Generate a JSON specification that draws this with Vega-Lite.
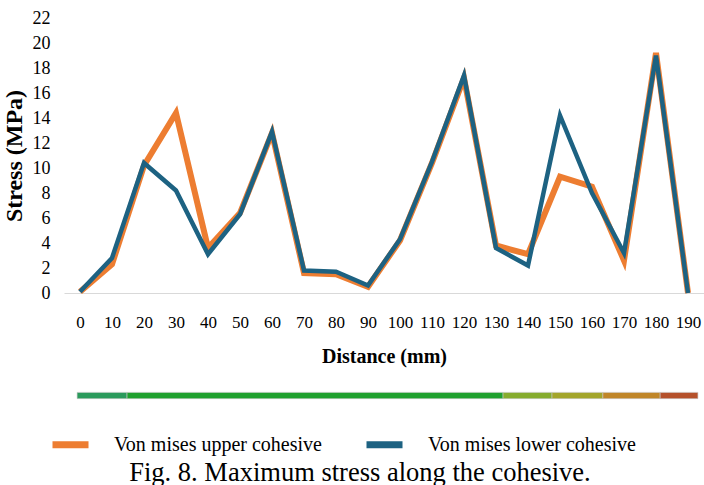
{
  "$schema": "https://vega.github.io/schema/vega-lite/v6.json",
  "width": 640,
  "height": 275,
  "autosize": "none",
  "padding": {"left": 64, "top": 18, "right": 0, "bottom": 192},
  "background": "white",
  "config": {
    "view": {"stroke": null},
    "font": "Liberation Serif",
    "axis": {
      "labelFont": "Liberation Serif",
      "labelColor": "#000000",
      "labelOverlap": false,
      "labelFlush": false,
      "titleFont": "Liberation Serif",
      "titleFontWeight": "bold",
      "titleColor": "#000000",
      "ticks": false,
      "grid": false
    },
    "axisX": {
      "labelFontSize": 17,
      "labelPadding": 21,
      "titleFontSize": 20,
      "titlePadding": 16,
      "domain": true,
      "domainColor": "#d9d9d9",
      "domainWidth": 1
    },
    "axisY": {
      "labelFontSize": 18,
      "labelPadding": 14,
      "titleFontSize": 24,
      "titlePadding": 6,
      "domain": false
    },
    "legend": {
      "labelFont": "Liberation Serif",
      "labelFontSize": 20,
      "labelColor": "#000000",
      "labelLimit": 400
    }
  },
  "title": {
    "text": "Fig. 8. Maximum stress along the cohesive.",
    "orient": "bottom",
    "anchor": "middle",
    "font": "Liberation Serif",
    "fontSize": 26.5,
    "fontWeight": "normal",
    "color": "#000000",
    "offset": 1,
    "dx": -24
  },
  "datasets": {
    "stress": [
      {"d": 0, "series": "Von mises upper cohesive", "stress": 0.1},
      {"d": 10, "series": "Von mises upper cohesive", "stress": 2.3},
      {"d": 20, "series": "Von mises upper cohesive", "stress": 10.2},
      {"d": 30, "series": "Von mises upper cohesive", "stress": 14.4},
      {"d": 40, "series": "Von mises upper cohesive", "stress": 3.6},
      {"d": 50, "series": "Von mises upper cohesive", "stress": 6.4},
      {"d": 60, "series": "Von mises upper cohesive", "stress": 12.8},
      {"d": 70, "series": "Von mises upper cohesive", "stress": 1.6},
      {"d": 80, "series": "Von mises upper cohesive", "stress": 1.5},
      {"d": 90, "series": "Von mises upper cohesive", "stress": 0.5},
      {"d": 100, "series": "Von mises upper cohesive", "stress": 4.2},
      {"d": 110, "series": "Von mises upper cohesive", "stress": 10.4},
      {"d": 120, "series": "Von mises upper cohesive", "stress": 17.2},
      {"d": 130, "series": "Von mises upper cohesive", "stress": 3.8},
      {"d": 140, "series": "Von mises upper cohesive", "stress": 3.1},
      {"d": 150, "series": "Von mises upper cohesive", "stress": 9.3},
      {"d": 160, "series": "Von mises upper cohesive", "stress": 8.5},
      {"d": 170, "series": "Von mises upper cohesive", "stress": 2.6},
      {"d": 180, "series": "Von mises upper cohesive", "stress": 19.2},
      {"d": 190, "series": "Von mises upper cohesive", "stress": 0},
      {"d": 0, "series": "Von mises lower cohesive", "stress": 0.1},
      {"d": 10, "series": "Von mises lower cohesive", "stress": 2.8},
      {"d": 20, "series": "Von mises lower cohesive", "stress": 10.4},
      {"d": 30, "series": "Von mises lower cohesive", "stress": 8.2},
      {"d": 40, "series": "Von mises lower cohesive", "stress": 3.1},
      {"d": 50, "series": "Von mises lower cohesive", "stress": 6.3},
      {"d": 60, "series": "Von mises lower cohesive", "stress": 12.9},
      {"d": 70, "series": "Von mises lower cohesive", "stress": 1.8},
      {"d": 80, "series": "Von mises lower cohesive", "stress": 1.7},
      {"d": 90, "series": "Von mises lower cohesive", "stress": 0.6},
      {"d": 100, "series": "Von mises lower cohesive", "stress": 4.3},
      {"d": 110, "series": "Von mises lower cohesive", "stress": 10.5},
      {"d": 120, "series": "Von mises lower cohesive", "stress": 17.4},
      {"d": 130, "series": "Von mises lower cohesive", "stress": 3.6},
      {"d": 140, "series": "Von mises lower cohesive", "stress": 2.2},
      {"d": 150, "series": "Von mises lower cohesive", "stress": 14.2},
      {"d": 160, "series": "Von mises lower cohesive", "stress": 8.0},
      {"d": 170, "series": "Von mises lower cohesive", "stress": 3.2},
      {"d": 180, "series": "Von mises lower cohesive", "stress": 19.0},
      {"d": 190, "series": "Von mises lower cohesive", "stress": 0}
    ],
    "strip": [
      {"a": -0.9, "b": 14.7, "band": "b1"},
      {"a": 14.7, "b": 132.2, "band": "b2"},
      {"a": 132.2, "b": 147.5, "band": "b3"},
      {"a": 147.5, "b": 163.4, "band": "b4"},
      {"a": 163.4, "b": 181.3, "band": "b5"},
      {"a": 181.3, "b": 193.1, "band": "b6"}
    ]
  },
  "layer": [
    {
      "data": {"name": "stress"},
      "layer": [
        {
          "transform": [{"filter": "datum.series === 'Von mises upper cohesive'"}],
          "mark": {"type": "line", "strokeWidth": 6, "strokeJoin": "miter"},
          "encoding": {
            "x": {
              "field": "d",
              "type": "quantitative",
              "scale": {"domain": [-5, 195], "nice": false, "zero": false},
              "axis": {
                "values": [0, 10, 20, 30, 40, 50, 60, 70, 80, 90, 100, 110, 120, 130, 140, 150, 160, 170, 180, 190],
                "title": "Distance (mm)",
                "labelOverlap": false,
                "labelFontSize": 17
              }
            },
            "y": {
              "field": "stress",
              "type": "quantitative",
              "scale": {"domain": [0, 22], "nice": false},
              "axis": {
                "values": [0, 2, 4, 6, 8, 10, 12, 14, 16, 18, 20, 22],
                "title": "Stress (MPa)",
                "labelOverlap": false,
                "labelFontSize": 18
              }
            },
            "color": {
              "field": "series",
              "type": "nominal",
              "scale": {
                "domain": ["Von mises upper cohesive", "Von mises lower cohesive"],
                "range": ["#ED7D31", "#1D6282"]
              },
              "legend": {
                "orient": "none",
                "legendX": -15,
                "legendY": 405,
                "direction": "horizontal",
                "title": null,
                "symbolType": "stroke",
                "symbolStrokeWidth": 7,
                "symbolSize": 1296,
                "labelOffset": 22,
                "columnPadding": 30,
                "padding": 0
              }
            }
          }
        },
        {
          "transform": [{"filter": "datum.series === 'Von mises lower cohesive'"}],
          "mark": {"type": "line", "strokeWidth": 4.5, "strokeJoin": "miter"},
          "encoding": {
            "x": {
              "field": "d",
              "type": "quantitative",
              "axis": {
                "values": [0, 10, 20, 30, 40, 50, 60, 70, 80, 90, 100, 110, 120, 130, 140, 150, 160, 170, 180, 190],
                "title": "Distance (mm)",
                "labelOverlap": false,
                "labelFontSize": 17
              }
            },
            "y": {
              "field": "stress",
              "type": "quantitative",
              "axis": {
                "values": [0, 2, 4, 6, 8, 10, 12, 14, 16, 18, 20, 22],
                "title": "Stress (MPa)",
                "labelOverlap": false,
                "labelFontSize": 18
              }
            },
            "color": {"field": "series", "type": "nominal"}
          }
        }
      ]
    },
    {
      "data": {"name": "strip"},
      "mark": {"type": "rect", "stroke": "#c8c8c8", "strokeWidth": 0.6},
      "encoding": {
        "x": {
          "field": "a",
          "type": "quantitative",
          "axis": {
            "values": [0, 10, 20, 30, 40, 50, 60, 70, 80, 90, 100, 110, 120, 130, 140, 150, 160, 170, 180, 190],
            "title": "Distance (mm)",
            "labelOverlap": false,
            "labelFontSize": 17
          }
        },
        "x2": {"field": "b"},
        "y": {
          "datum": -7.95,
          "type": "quantitative",
          "axis": {
            "values": [0, 2, 4, 6, 8, 10, 12, 14, 16, 18, 20, 22],
            "title": "Stress (MPa)",
            "labelOverlap": false,
            "labelFontSize": 18
          }
        },
        "y2": {"datum": -8.45},
        "color": {
          "field": "band",
          "type": "nominal",
          "scale": {
            "domain": ["b1", "b2", "b3", "b4", "b5", "b6"],
            "range": ["#2b9a5c", "#1fa02e", "#86ac2e", "#a3a52a", "#c08628", "#b5512b"]
          },
          "legend": null
        }
      }
    }
  ],
  "resolve": {"scale": {"color": "independent"}}
}
